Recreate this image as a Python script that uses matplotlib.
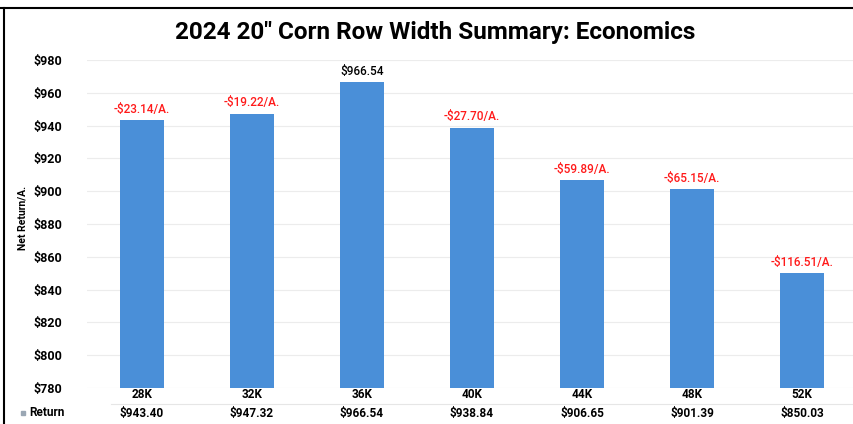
import matplotlib
matplotlib.use("Agg")
import matplotlib.pyplot as plt
from matplotlib.lines import Line2D

plt.rcParams.update({"font.family": ["Roboto", "DejaVu Sans"], "font.weight": "bold"})

categories = ["28K", "32K", "36K", "40K", "44K", "48K", "52K"]
returns = [943.40, 947.32, 966.54, 938.84, 906.65, 901.39, 850.03]
yticks = list(range(780, 981, 20))

BAR = "#4a8fd8"
RED = "#ff1a1a"
W, H = 854, 424

fig = plt.figure(figsize=(W / 100, H / 100), dpi=100)
ax = fig.add_axes([87 / W, 1 - 388 / H, 770 / W, 328 / H])

x = list(range(len(categories)))
ax.bar(x, returns, width=0.4, color=BAR, zorder=3)
ax.set_xlim(-0.5, len(categories) - 0.5)
ax.set_ylim(780, 980)
ax.set_yticks(yticks)
ax.set_yticklabels([f"${v}" for v in yticks], fontsize=9, fontweight="bold")
ax.tick_params(axis="y", length=0, pad=18)
ax.set_xticks([])
for s in ax.spines.values():
    s.set_visible(False)
ax.grid(axis="y", color="#ececec", lw=0.8, zorder=0)
ax.set_ylabel("Net Return/A.", fontsize=7.5, fontweight="bold")
ax.yaxis.set_label_coords(-(87 - 27) / 770, 0.52)

best = max(returns)
for xi, v in zip(x, returns):
    if v == best:
        txt, col = f"${v:.2f}", "black"
    else:
        txt, col = f"-${best - v:.2f}/A.", RED
    ax.annotate(txt, (xi, v), xytext=(0, 3), textcoords="offset points",
                ha="center", va="bottom", fontsize=8.5, color=col, fontweight="medium")

# data table below the axis
for xi, c, v in zip(x, categories, returns):
    ax.text(xi, -7 / 328, c, transform=ax.get_xaxis_transform(), ha="center",
            va="center", fontsize=8.5, fontweight="bold")
    ax.text(xi, -25 / 328, f"${v:.2f}", transform=ax.get_xaxis_transform(),
            ha="center", va="center", fontsize=8.5, fontweight="bold")
fig.add_artist(Line2D([0.13, 1], [1 - 404 / H] * 2, color="#e6e6e6", lw=0.8))
fig.add_artist(Line2D([23 / W], [1 - 413 / H], marker="s", ms=3.5, color="#9aa7b4", lw=0))
fig.text(29 / W, 1 - 413 / H, "Return", fontsize=8.5, fontweight="bold", va="center")

fig.text(435 / W, 1 - 33 / H, "2024 20\" Corn Row Width Summary: Economics",
         ha="center", va="center", fontsize=17.5, fontweight="bold")

# photo frame
fig.add_artist(Line2D([0, 1], [1 - 8 / H] * 2, color="black", lw=1.5))
fig.add_artist(Line2D([4 / W] * 2, [0, 1 - 8 / H], color="black", lw=1.5))

fig.savefig("out.png", dpi=100)
